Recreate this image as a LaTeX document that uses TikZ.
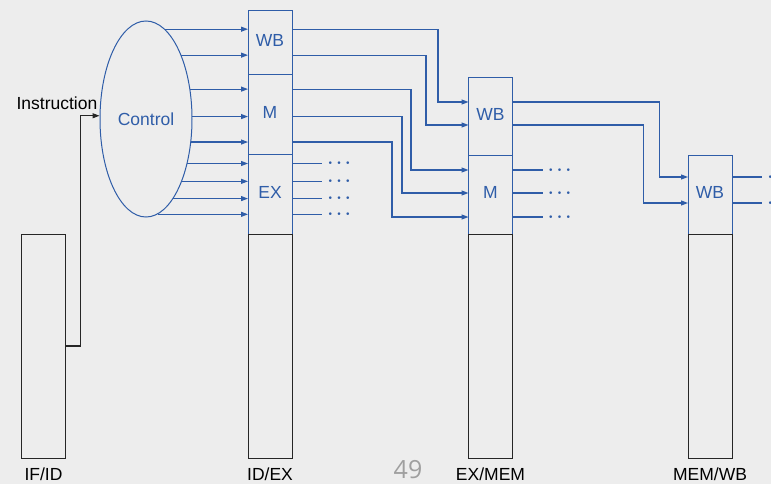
\documentclass[tikz,border=0pt]{standalone}
\usepackage{fontspec}
\setmainfont{Liberation Sans}
\newfontfamily\slidefont{Open Sans}
\usepackage{xcolor}
\usetikzlibrary{arrows.meta, shapes.geometric, positioning, calc}
\definecolor{ctrlblue}{HTML}{2F5DA8}
\definecolor{paper}{HTML}{EDEDED}

\begin{document}
\begin{tikzpicture}[
  x = 1pt, y = -1pt,
  lbl/.style      = {font=\fontsize{17.5}{20}\selectfont, inner sep=0pt},
  stage/.style    = {rectangle, draw=ctrlblue, text=ctrlblue, line width=1pt,
                     minimum width=44pt, inner sep=0pt, outer sep=0pt,
                     text height=12.5pt, text depth=5pt,
                     font=\fontsize{17.5}{20}\selectfont},
  reg/.style      = {rectangle, draw=black!85, line width=1pt,
                     minimum width=44pt, minimum height=224pt,
                     inner sep=0pt, outer sep=0pt},
  ctrlunit/.style = {ellipse, draw=ctrlblue, text=ctrlblue, line width=1pt,
                     minimum width=92pt, minimum height=196pt, inner sep=0pt,
                     font=\fontsize{17.5}{20}\selectfont},
  dotlbl/.style   = {text=ctrlblue, font=\fontsize{17.5}{20}\selectfont\boldmath, inner sep=5pt},
  arr/.style      = {-{Triangle[length=7pt, width=5pt]}, line width=1.1pt, ctrlblue},
  karr/.style     = {-{Triangle[length=7pt, width=5pt]}, line width=1.1pt, black!85},
  wire/.style     = {line width=1.1pt, ctrlblue},
]

%% ── Page ─────────────────────────────────────────────────────────────────
\fill[paper] (0,0) rectangle (771,484);
\useasboundingbox (0,0) rectangle (771,484);

%% ── Pipeline registers ───────────────────────────────────────────────────
\node[reg] (ifid) at (43.5,346) {};
\node[lbl, anchor=base] (ifidlbl) at ([yshift=-22pt]ifid.south) {IF/ID};

\node[stage, minimum height=79pt]                     (idexEX) at (270,194.5) {EX};
\node[stage, minimum height=80pt, above=0pt of idexEX] (idexM)  {M};
\node[stage, minimum height=64pt, above=0pt of idexM]  (idexWB) {WB};
\node[reg, below=0pt of idexEX]                        (idex)   {};
\node[lbl, anchor=base] (idexlbl) at ([yshift=-22pt]idex.south) {ID/EX};

\node[stage, minimum height=78pt]                      (exmemM)  at (490.5,195) {M};
\node[stage, minimum height=78pt, above=0pt of exmemM] (exmemWB) {WB};
\node[reg, below=0pt of exmemM]                        (exmem)   {};
\node[lbl, anchor=base] (exmemlbl) at ([yshift=-22pt]exmem.south) {EX/MEM};

\node[stage, minimum height=78pt]                      (memwbWB) at (710,195) {WB};
\node[reg, below=0pt of memwbWB]                       (memwb)   {};
\node[lbl, anchor=base] (memwblbl) at ([yshift=-22pt]memwb.south) {MEM/WB};

%% ── Control unit ─────────────────────────────────────────────────────────
\node[ctrlunit] (ctrl) at (146,119) {Control};
\node[lbl, anchor=base east] (instr) at ([xshift=-2pt, yshift=6pt]ctrl.176) {Instruction};

\node[font=\slidefont\fontsize{25}{28}\selectfont, text=gray!75, inner sep=0pt] (pgno) at (408,470) {49};

%% ── Instruction into control ─────────────────────────────────────────────
\draw[karr] (ifid.east) -- ++(15,0) |- (ctrl.176);

%% ── Control lines into ID/EX ─────────────────────────────────────────────
\draw[arr] (ctrl.78.6)  -- (ctrl.78.6  -| idexWB.west);
\draw[arr] (ctrl.61.4)  -- (ctrl.61.4  -| idexWB.west);
\draw[arr] (ctrl.34.4)  -- (ctrl.34.4  -| idexM.west);
\draw[arr] (ctrl.3.7)   -- (ctrl.3.7   -| idexM.west);
\draw[arr] (ctrl.-27.2) -- (ctrl.-27.2 -| idexM.west);
\draw[arr] (ctrl.-47.7) -- (ctrl.-47.7 -| idexEX.west);
\draw[arr] (ctrl.-60.1) -- (ctrl.-60.1 -| idexEX.west);
\draw[arr] (ctrl.-71.0) -- (ctrl.-71.0 -| idexEX.west);
\draw[arr] (ctrl.-83.2) -- (ctrl.-83.2 -| idexEX.west);

%% ── ID/EX to EX/MEM ──────────────────────────────────────────────────────
\draw[arr] (ctrl.78.6  -| idexWB.east) -- ++(146,0) |- ([yshift=15pt]exmemWB.west);
\draw[arr] (ctrl.61.4  -| idexWB.east) -- ++(134,0) |- ([yshift=-8pt]exmemWB.west);
\draw[arr] (ctrl.34.4  -| idexM.east)  -- ++(119,0) |- ([yshift=25pt]exmemM.west);
\draw[arr] (ctrl.3.7   -| idexM.east)  -- ++(110,0) |- ([yshift=2pt]exmemM.west);
\draw[arr] (ctrl.-27.2 -| idexM.east)  -- ++(100,0) |- ([yshift=-22pt]exmemM.west);

\draw[wire] (ctrl.-47.7 -| idexEX.east) -- ++(30,0) node[dotlbl, right] (exdots1) {$\cdots$};
\draw[wire] (ctrl.-60.1 -| idexEX.east) -- ++(30,0) node[dotlbl, right] (exdots2) {$\cdots$};
\draw[wire] (ctrl.-71.0 -| idexEX.east) -- ++(30,0) node[dotlbl, right] (exdots3) {$\cdots$};
\draw[wire] (ctrl.-83.2 -| idexEX.east) -- ++(30,0) node[dotlbl, right] (exdots4) {$\cdots$};

%% ── EX/MEM to MEM/WB ─────────────────────────────────────────────────────
\draw[arr] ([yshift=15pt]exmemWB.east) -- ++(147,0) |- ([yshift=18pt]memwbWB.west);
\draw[arr] ([yshift=-8pt]exmemWB.east) -- ++(131,0) |- ([yshift=-8pt]memwbWB.west);

\draw[wire] ([yshift=25pt]exmemM.east)  -- ++(30,0) node[dotlbl, right] (memdots1) {$\cdots$};
\draw[wire] ([yshift=2pt]exmemM.east)   -- ++(30,0) node[dotlbl, right] (memdots2) {$\cdots$};
\draw[wire] ([yshift=-22pt]exmemM.east) -- ++(30,0) node[dotlbl, right] (memdots3) {$\cdots$};

%% ── MEM/WB outputs ───────────────────────────────────────────────────────
\draw[wire] ([yshift=18pt]memwbWB.east) -- ++(30,0) node[dotlbl, right] (wbdots1) {$\cdots$};
\draw[wire] ([yshift=-8pt]memwbWB.east) -- ++(30,0) node[dotlbl, right] (wbdots2) {$\cdots$};

\end{tikzpicture}
\end{document}
